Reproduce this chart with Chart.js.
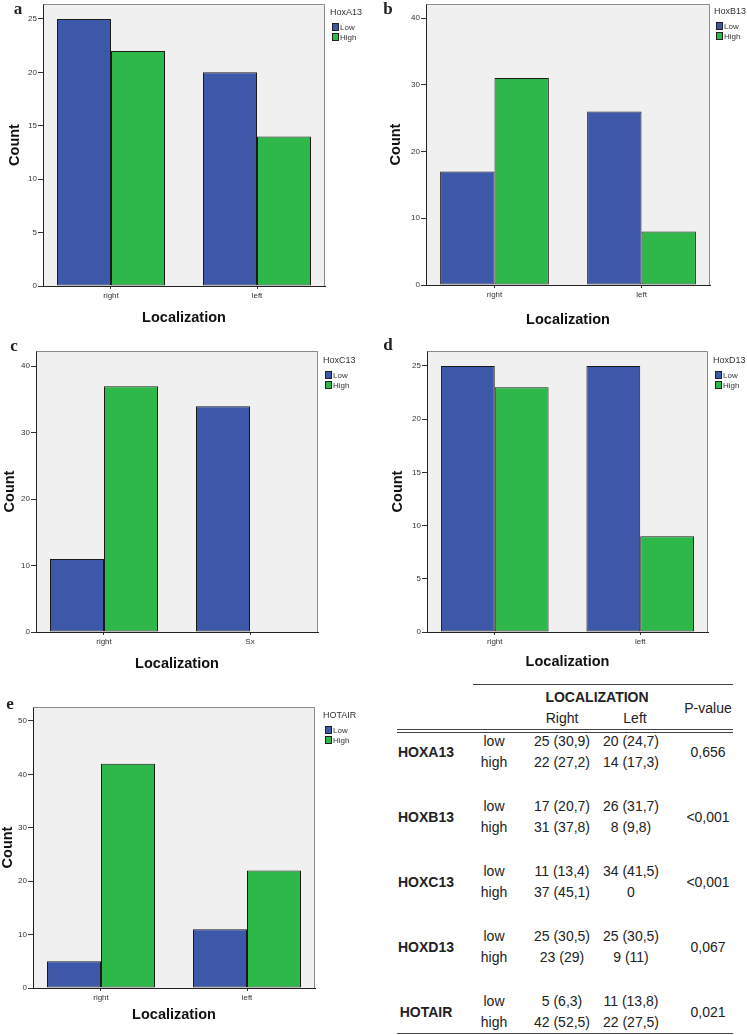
<!DOCTYPE html>
<html><head><meta charset="utf-8">
<script src="https://cdn.jsdelivr.net/npm/chart.js@4.4.1/dist/chart.umd.min.js"></script>
<style>
html,body{margin:0;padding:0;background:#fff;}
body{width:747px;height:1035px;position:relative;overflow:hidden;font-family:"Liberation Sans",Arial,sans-serif;color:#222;}
canvas{position:absolute;}
.t{position:absolute;white-space:nowrap;transform:translate(-50%,-50%);line-height:1;font-size:14px;}
.b{font-weight:bold;}
.lbl{position:absolute;font-family:"Liberation Serif","Times New Roman",serif;font-weight:bold;font-size:17px;transform:translate(-50%,-50%);line-height:1;}
.hl{position:absolute;background:#444;height:1.5px;}
</style></head><body>
<script>
// ---------- DATA ----------
const xCategories = ['right', 'left'];
const xCategoriesC = ['right', 'Sx'];
const seriesNames = ['Low', 'High'];

const hoxA13Low = [25, 20];
const hoxA13High = [22, 14];
const hoxB13Low = [17, 26];
const hoxB13High = [31, 8];
const hoxC13Low = [11, 34];
const hoxC13High = [37, 0];
const hoxD13Low = [25, 25];
const hoxD13High = [23, 9];
const hotairLow = [5, 11];
const hotairHigh = [42, 22];

const yTicksA = [0, 5, 10, 15, 20, 25];
const yTicksB = [0, 10, 20, 30, 40];
const yTicksC = [0, 10, 20, 30, 40];
const yTicksD = [0, 5, 10, 15, 20, 25];
const yTicksE = [0, 10, 20, 30, 40, 50];

const tableGenes = ['HOXA13', 'HOXB13', 'HOXC13', 'HOXD13', 'HOTAIR'];
const tableLevels = ['low', 'high'];
const tableRightLow = ['25 (30,9)', '17 (20,7)', '11 (13,4)', '25 (30,5)', '5 (6,3)'];
const tableLeftLow = ['20 (24,7)', '26 (31,7)', '34 (41,5)', '25 (30,5)', '11 (13,8)'];
const tableRightHigh = ['22 (27,2)', '31 (37,8)', '37 (45,1)', '23 (29)', '42 (52,5)'];
const tableLeftHigh = ['14 (17,3)', '8 (9,8)', '0', '9 (11)', '22 (27,5)'];
const tablePValues = ['0,656', '<0,001', '<0,001', '0,067', '0,021'];

// ---------- STYLE / LAYOUT ----------
const FAM = '"Liberation Sans", Arial, sans-serif';
const COL_LOW = '#3d57a9';
const COL_HIGH = '#2fb84a';
const X_PAD = 68 / 146;

const panels = [
  {letter:'a', lx:18, ly:8,   title:'HoxA13', cats:xCategories,  low:hoxA13Low, high:hoxA13High, yTicks:yTicksA, yMax:26.4,
   left:0,   top:0,   w:374, h:340, area:{L:43, R:325, T:4,  B:286}, xTitleOff:23, yTitleOff:15, lg:{dx:5, dy:9}},
  {letter:'b', lx:388, ly:8,  title:'HoxB13', cats:xCategories,  low:hoxB13Low, high:hoxB13High, yTicks:yTicksB, yMax:42.1,
   left:374, top:0,   w:373, h:340, area:{L:52, R:336, T:4,  B:285}, xTitleOff:21, yTitleOff:22, lg:{dx:4, dy:8}},
  {letter:'c', lx:14, ly:345, title:'HoxC13', cats:xCategoriesC, low:hoxC13Low, high:hoxC13High, yTicks:yTicksC, yMax:42.3,
   left:0,   top:340, w:374, h:340, area:{L:36, R:318, T:11, B:292}, xTitleOff:17, yTitleOff:10, lg:{dx:5, dy:10}},
  {letter:'d', lx:388, ly:344, title:'HoxD13', cats:xCategories, low:hoxD13Low, high:hoxD13High, yTicks:yTicksD, yMax:26.4,
   left:374, top:340, w:373, h:340, area:{L:53, R:334, T:11, B:292}, xTitleOff:19, yTitleOff:24, lg:{dx:5, dy:10}},
  {letter:'e', lx:10, ly:703, title:'HOTAIR', cats:xCategories,  low:hotairLow, high:hotairHigh, yTicks:yTicksE, yMax:52.6,
   left:0,   top:680, w:374, h:355, area:{L:33, R:315, T:27, B:308}, xTitleOff:21, yTitleOff:8, lg:{dx:8, dy:9}},
];

const spssPlugin = {
  id: 'spss',
  beforeDraw(chart) {
    const {ctx, chartArea: a} = chart;
    ctx.save();
    ctx.fillStyle = '#f0f0f0';
    ctx.fillRect(a.left, a.top, a.right - a.left, a.bottom - a.top);
    ctx.restore();
  },
  afterDraw(chart, args, opts) {
    const {ctx, chartArea: a} = chart;
    ctx.save();
    ctx.strokeStyle = '#8a8a8a';
    ctx.lineWidth = 1;
    ctx.beginPath();
    ctx.moveTo(Math.round(a.left) + 0.5, Math.round(a.top) + 0.5);
    ctx.lineTo(Math.round(a.right) - 0.5, Math.round(a.top) + 0.5);
    ctx.lineTo(Math.round(a.right) - 0.5, Math.round(a.bottom));
    ctx.stroke();
    // legend
    const x0 = a.right + opts.dx, y0 = a.top + opts.dy;
    ctx.fillStyle = '#333';
    ctx.textBaseline = 'middle';
    ctx.textAlign = 'left';
    ctx.font = '9px ' + FAM;
    ctx.fillText(opts.title, x0, y0);
    ctx.font = '8px ' + FAM;
    chart.data.datasets.forEach((ds, i) => {
      const cy = y0 + 14 + i * 10;
      ctx.fillStyle = ds.backgroundColor;
      ctx.fillRect(x0 + 2, cy - 4, 7, 8);
      ctx.strokeStyle = '#222';
      ctx.strokeRect(x0 + 2.5, cy - 3.5, 6, 7);
      ctx.fillStyle = '#333';
      ctx.fillText(ds.label, x0 + 10, cy + 0.5);
    });
    ctx.restore();
  }
};

panels.forEach(p => {
  const cv = document.createElement('canvas');
  cv.width = p.w; cv.height = p.h;
  cv.style.left = p.left + 'px'; cv.style.top = p.top + 'px';
  cv.style.width = p.w + 'px'; cv.style.height = p.h + 'px';
  document.body.appendChild(cv);

  const lb = document.createElement('div');
  lb.className = 'lbl';
  lb.textContent = p.letter;
  lb.style.left = p.lx + 'px'; lb.style.top = p.ly + 'px';
  document.body.appendChild(lb);

  const mk = arr => arr.map((v, i) => ({x: i, y: v}));
  new Chart(cv, {
    type: 'bar',
    data: {
      datasets: [
        {label: seriesNames[0], data: mk(p.low), backgroundColor: COL_LOW, borderColor: '#1a1a1a', borderWidth: 1, borderSkipped: false},
        {label: seriesNames[1], data: mk(p.high), backgroundColor: COL_HIGH, borderColor: '#1a1a1a', borderWidth: 1, borderSkipped: false},
      ]
    },
    plugins: [spssPlugin],
    options: {
      responsive: false, animation: false, devicePixelRatio: 1,
      categoryPercentage: 108 / 146, barPercentage: 1,
      layout: {padding: {left: 0, top: p.area.T, right: p.w - p.area.R, bottom: 0}},
      plugins: {
        legend: {display: false}, tooltip: {enabled: false},
        spss: {title: p.title, dx: p.lg.dx, dy: p.lg.dy}
      },
      scales: {
        x: {
          type: 'linear', offset: false, min: -X_PAD, max: p.cats.length - 1 + X_PAD,
          afterBuildTicks: s => { s.ticks = p.cats.map((c, i) => ({value: i})); },
          afterFit: s => { s.height = p.h - p.area.B; s.paddingLeft = 0; s.paddingRight = 0; },
          ticks: {callback: v => p.cats[v], font: {size: 8, family: FAM}, color: '#333', padding: 2, maxRotation: 0, autoSkip: false},
          grid: {display: true, offset: false, drawOnChartArea: false, drawTicks: true, tickLength: 3, color: '#333'},
          border: {display: true, color: '#222', width: 1},
          title: {display: true, text: 'Localization', color: '#111',
                  font: {size: 14.5, weight: 'bold', family: FAM}, padding: {top: 0, bottom: p.xTitleOff - 9.2}}
        },
        y: {
          min: 0, max: p.yMax,
          afterBuildTicks: s => { s.ticks = p.yTicks.map(v => ({value: v})); },
          afterFit: s => { s.width = p.area.L; s.paddingTop = 0; s.paddingBottom = 0; },
          ticks: {font: {size: 8, family: FAM}, color: '#333', padding: 1},
          grid: {display: true, drawOnChartArea: false, drawTicks: true, tickLength: 5, color: '#333'},
          border: {display: true, color: '#222', width: 1},
          title: {display: true, text: 'Count', color: '#111',
                  font: {size: 14.5, weight: 'bold', family: FAM}, padding: {top: p.yTitleOff - 8.7, bottom: 0}}
        }
      }
    }
  });
});

// ---------- TABLE ----------
const TB = {geneX: 426, levelX: 494, rightX: 562, leftX: 631, pX: 708, row0: 741, rowStep: 65, highDy: 21};
function txt(s, x, y, bold) {
  const d = document.createElement('div');
  d.className = 't' + (bold ? ' b' : '');
  d.textContent = s;
  d.style.left = x + 'px'; d.style.top = y + 'px';
  document.body.appendChild(d);
}
function hline(x1, x2, y, h) {
  const d = document.createElement('div');
  d.className = 'hl';
  d.style.left = x1 + 'px'; d.style.width = (x2 - x1) + 'px'; d.style.top = y + 'px';
  if (h) d.style.height = h + 'px';
  document.body.appendChild(d);
}
hline(473, 733, 683.5);
hline(397, 733, 728.5);
hline(397, 733, 731.5);
hline(397, 733, 1032.5);
txt('LOCALIZATION', 597, 697, true);
txt('P-value', 708, 708);
txt('Right', 562, 718);
txt('Left', 635, 718);
tableGenes.forEach((g, i) => {
  const yl = TB.row0 + i * TB.rowStep, yh = yl + TB.highDy, ym = (yl + yh) / 2;
  txt(g, TB.geneX, ym, true);
  txt(tableLevels[0], TB.levelX, yl);
  txt(tableLevels[1], TB.levelX, yh);
  txt(tableRightLow[i], TB.rightX, yl);
  txt(tableLeftLow[i], TB.leftX, yl);
  txt(tableRightHigh[i], TB.rightX, yh);
  txt(tableLeftHigh[i], TB.leftX, yh);
  txt(tablePValues[i], TB.pX, ym);
});
</script>
</body></html>
